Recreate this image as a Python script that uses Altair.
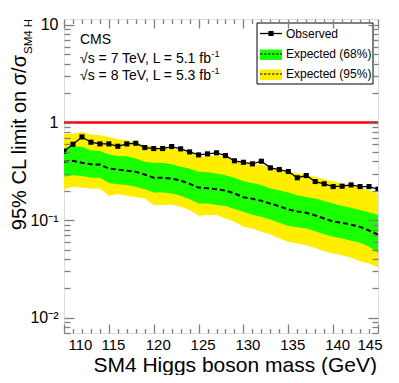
import altair as alt
import pandas as pd

mass = list(range(110, 146))
observed = [0.508, 0.600, 0.713, 0.629, 0.605, 0.605, 0.572, 0.605, 0.614, 0.555,
            0.542, 0.542, 0.568, 0.538, 0.501, 0.467, 0.478, 0.490, 0.459, 0.406,
            0.392, 0.378, 0.402, 0.344, 0.330, 0.315, 0.272, 0.287, 0.249, 0.236,
            0.221, 0.223, 0.230, 0.221, 0.221, 0.208]
median = [0.396, 0.406, 0.387, 0.374, 0.372, 0.338, 0.330, 0.321, 0.313, 0.294,
          0.272, 0.272, 0.267, 0.255, 0.236, 0.216, 0.213, 0.208, 0.201, 0.188,
          0.172, 0.166, 0.158, 0.148, 0.139, 0.129, 0.123, 0.119, 0.112, 0.104,
          0.097, 0.094, 0.090, 0.0855, 0.0785, 0.0714]
green_hi = [0.550, 0.568, 0.564, 0.521, 0.513, 0.470, 0.456, 0.452, 0.428, 0.396,
            0.387, 0.387, 0.375, 0.352, 0.338, 0.313, 0.310, 0.301, 0.289, 0.272,
            0.251, 0.241, 0.229, 0.211, 0.203, 0.192, 0.180, 0.173, 0.167, 0.157,
            0.148, 0.140, 0.134, 0.127, 0.121, 0.113]
green_lo = [0.278, 0.289, 0.284, 0.272, 0.272, 0.241, 0.234, 0.229, 0.220, 0.208,
            0.192, 0.192, 0.188, 0.178, 0.164, 0.148, 0.148, 0.143, 0.140, 0.130,
            0.122, 0.114, 0.108, 0.102, 0.094, 0.0875, 0.0849, 0.0822, 0.0773, 0.0719,
            0.0676, 0.0650, 0.0615, 0.0587, 0.0534, 0.0463]
yellow_hi = [0.760, 0.771, 0.803, 0.754, 0.742, 0.713, 0.675, 0.654, 0.634, 0.586,
             0.564, 0.550, 0.542, 0.521, 0.501, 0.445, 0.452, 0.463, 0.445, 0.412,
             0.390, 0.380, 0.366, 0.344, 0.330, 0.318, 0.301, 0.289, 0.278, 0.263,
             0.251, 0.238, 0.229, 0.216, 0.203, 0.188]
yellow_lo = [0.208, 0.220, 0.216, 0.211, 0.211, 0.178, 0.186, 0.178, 0.173, 0.167,
             0.143, 0.143, 0.145, 0.137, 0.127, 0.111, 0.113, 0.113, 0.104, 0.0962,
             0.0855, 0.0822, 0.0760, 0.0714, 0.0650, 0.0601, 0.0578, 0.0555, 0.0521, 0.0482,
             0.0456, 0.0439, 0.0412, 0.0381, 0.0360, 0.0328]
reference_line = [1.0]

x_label_values = [110, 115, 120, 125, 130, 135, 140, 145]
y_label_values = [0.01, 0.1, 1, 10]
x_tick_values = list(range(110, 146))
y_tick_values = [0.007, 0.008, 0.009] + [round(k * 10.0 ** e, 6) for e in (-2, -1, 0) for k in range(1, 10)] + [10]

df = pd.DataFrame({"mass": mass, "observed": observed, "median": median,
                   "g_lo": green_lo, "g_hi": green_hi, "y_lo": yellow_lo, "y_hi": yellow_hi})

W = H = 314
FONT = "Liberation Sans"
YELLOW = "#ffee00"
GREEN = "#1aff00"
FRAME = "#808080"

xs = alt.Scale(domain=[110, 145], nice=False, zero=False)
ys = alt.Scale(type="log", domain=[0.007, 11.5], nice=False)

X_MAJOR = "datum.value % 5 == 0"
Y_MAJOR = "abs(log(datum.value)/LN10 - round(log(datum.value)/LN10)) < 0.000001"


def tick_axis(orient, values, test, big, small):
    return alt.Axis(orient=orient, offset=-W, values=values, labels=False, domain=False,
                    grid=False, ticks=True, tickColor=FRAME, tickWidth=1.3,
                    tickSize={"condition": {"test": test, "value": big}, "value": small},
                    title=None, zindex=1)


x_label_axis = alt.Axis(orient="bottom", values=x_label_values, ticks=False, tickSize=0,
                        domain=False, grid=False, labelFont=FONT, labelFontSize=15,
                        labelColor="black", labelPadding=4, labelOffset=4, title=None)
y_label_axis = alt.Axis(orient="left", values=y_label_values, ticks=False, tickSize=0,
                        domain=False, grid=False, labelFont=FONT, labelFontSize=16,
                        labelColor="black", labelPadding=6, title=None,
                        labelExpr="datum.value >= 5 ? '10' : datum.value >= 0.5 ? '1' : datum.value >= 0.05 ? '10⁻¹' : '10⁻²'")

base = alt.Chart(df)

yellow = base.mark_area(color=YELLOW, clip=True).encode(
    x=alt.X("mass:Q", scale=xs, axis=x_label_axis),
    y=alt.Y("y_lo:Q", scale=ys, axis=y_label_axis),
    y2="y_hi:Q")

green = base.mark_area(color=GREEN, clip=True).encode(
    x=alt.X("mass:Q", scale=xs, axis=tick_axis("top", x_tick_values, X_MAJOR, 9, 4.5)),
    y=alt.Y("g_lo:Q", scale=ys, axis=tick_axis("right", y_tick_values, Y_MAJOR, 10, 6)),
    y2="g_hi:Q")

med = base.mark_line(color="black", strokeWidth=2, strokeDash=[5, 3], clip=True).encode(
    x=alt.X("mass:Q", scale=xs, axis=tick_axis("bottom", x_tick_values, X_MAJOR, 9, 4.5)),
    y=alt.Y("median:Q", scale=ys, axis=tick_axis("left", y_tick_values, Y_MAJOR, 10, 6)))

obs = base.mark_line(color="black", strokeWidth=1.3, clip=True,
                     point={"shape": "square", "filled": True, "size": 26, "color": "black"}).encode(
    x=alt.X("mass:Q", scale=xs, axis=None),
    y=alt.Y("observed:Q", scale=ys, axis=None))

red = alt.Chart(pd.DataFrame({"v": reference_line})).mark_rule(color="#ff0000", strokeWidth=2.5).encode(
    y=alt.Y("v:Q", scale=ys, axis=None))


def one():
    return alt.Data(values=[{"k": 0}])


def txt(s, x, y, size, align="left", angle=0):
    return alt.Chart(one()).mark_text(text=s, font=FONT, fontSize=size, align=align,
                                      baseline="alphabetic", angle=angle, color="black").encode(
        x=alt.value(x), y=alt.value(y))


def box(x1, x2, y1, y2, fill, stroke=None):
    kw = {"fill": fill}
    if stroke:
        kw.update(stroke=stroke, strokeWidth=1)
    return alt.Chart(one()).mark_rect(**kw).encode(
        x=alt.value(x1), x2=alt.value(x2), y=alt.value(y1), y2=alt.value(y2))


def hline(x1, x2, y, width, dash=None):
    kw = {"color": "black", "strokeWidth": width}
    if dash:
        kw["strokeDash"] = dash
    return alt.Chart(one()).mark_rule(**kw).encode(
        x=alt.value(x1), x2=alt.value(x2), y=alt.value(y))


legend = [
    box(193, 309, 4, 65, "white", "black"),
    hline(196, 218, 14.5, 1.3),
    alt.Chart(one()).mark_point(shape="square", filled=True, size=26, color="black", opacity=1).encode(
        x=alt.value(207), y=alt.value(14.5)),
    txt("Observed", 222, 19, 12),
    box(196, 218, 30.5, 41, GREEN),
    hline(196, 218, 35, 1.2, [2.5, 1.5]),
    txt("Expected (68%)", 222, 39, 12),
    box(196, 218, 50.5, 61, YELLOW),
    hline(196, 218, 55, 1.2, [2.5, 1.5]),
    txt("Expected (95%)", 222, 59, 12),
]

annot = [
    txt("CMS", 16, 25, 14),
    txt("√s = 7 TeV, L = 5.1 fb", 16, 44, 14),
    txt("-1", 147.5, 37.5, 9),
    txt("√s = 8 TeV, L = 5.3 fb", 16, 61, 14),
    txt("-1", 147.5, 54.5, 9),
    txt("95% CL limit on σ/σ", -38, 36, 20, align="right", angle=270),
    txt("SM4 H", -32, 35, 11.5, align="left", angle=270),
    txt("SM4 Higgs boson mass (GeV)", 313, 353, 21, align="right"),
]

chart = alt.layer(yellow, green, med, obs, red, *legend, *annot).resolve_axis(
    x="independent", y="independent"
).properties(
    width=W, height=H,
    autosize=alt.AutoSizeParams(type="none"),
    padding={"left": 56, "top": 11, "right": 13, "bottom": 42},
).configure_view(stroke=FRAME, strokeWidth=2).configure(background="white")

chart.save("out.html", embed_options={"renderer": "svg", "actions": False})
